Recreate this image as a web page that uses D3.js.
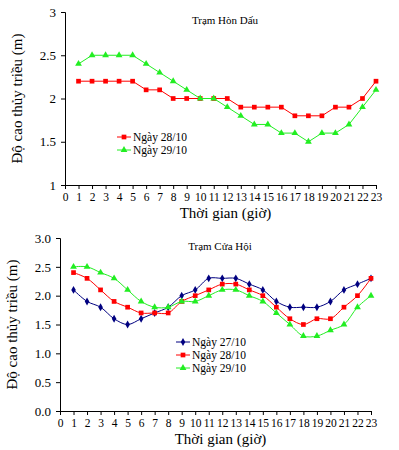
<!DOCTYPE html>
<html>
<head>
<meta charset="utf-8">
<script src="https://cdn.jsdelivr.net/npm/d3@7"></script>
<style>
  body { margin: 0; background: #fff; }
  svg text { font-family: "Liberation Serif", "DejaVu Serif", serif; fill: #000; }
</style>
</head>
<body>
<svg id="chart" width="399" height="450"></svg>
<script>
// hours on the x axis
var hours = d3.range(1, 24);
var xTicks = d3.range(0, 24);

// Tram Hon Dau
var hdTitle = "Trạm Hòn Dấu";
var hdYTicks = [1, 1.5, 2, 2.5, 3];
var hd28 = [2.2, 2.2, 2.2, 2.2, 2.2, 2.1, 2.1, 2.0, 2.0, 2.0, 2.0, 2.0, 1.9, 1.9, 1.9, 1.9, 1.8, 1.8, 1.8, 1.9, 1.9, 2.0, 2.2];
var hd29 = [2.4, 2.5, 2.5, 2.5, 2.5, 2.4, 2.3, 2.2, 2.1, 2.0, 2.0, 1.9, 1.8, 1.7, 1.7, 1.6, 1.6, 1.5, 1.6, 1.6, 1.7, 1.9, 2.1];

// Tram Cua Hoi
var chTitle = "Trạm Cửa Hội";
var chYTicks = [0, 0.5, 1, 1.5, 2, 2.5, 3];
var ch27 = [2.1, 1.9, 1.8, 1.6, 1.5, 1.6, 1.7, 1.8, 2.0, 2.1, 2.3, 2.3, 2.3, 2.2, 2.1, 1.9, 1.8, 1.8, 1.8, 1.9, 2.1, 2.2, 2.3];
var ch28 = [2.4, 2.3, 2.1, 1.9, 1.8, 1.7, 1.7, 1.7, 1.9, 2.0, 2.1, 2.2, 2.2, 2.1, 2.0, 1.8, 1.6, 1.5, 1.6, 1.6, 1.8, 2.0, 2.3];
var ch29 = [2.5, 2.5, 2.4, 2.3, 2.1, 1.9, 1.8, 1.8, 1.9, 1.9, 2.0, 2.1, 2.1, 2.0, 1.9, 1.7, 1.5, 1.3, 1.3, 1.4, 1.5, 1.8, 2.0];

var svg = d3.select("#chart");

function drawPanel(opt) {
  var x = d3.scaleLinear().domain([0, 23]).range([opt.left, opt.right]);
  var y = d3.scaleLinear().domain([opt.yTicks[0], opt.yTicks[opt.yTicks.length - 1]]).range([opt.bottom, opt.top]);
  var g = svg.append("g");

  // y axis
  var ya = g.append("g").attr("transform", "translate(" + opt.left + ",0)")
    .call(d3.axisLeft(y).tickValues(opt.yTicks).tickFormat(d3.format(opt.yFmt)).tickSize(4).tickPadding(5));
  // x axis
  var xa = g.append("g").attr("transform", "translate(0," + opt.bottom + ")")
    .call(d3.axisBottom(x).tickValues(xTicks).tickSize(4).tickPadding(4));
  [ya, xa].forEach(function (a) {
    a.select(".domain").attr("stroke", "#000");
    a.selectAll("line").attr("stroke", "#000");
  });
  ya.selectAll("text").style("font-size", "13px");
  xa.selectAll("text").style("font-size", "11.5px");

  g.append("text").attr("x", opt.titleX).attr("y", opt.titleY)
    .attr("text-anchor", "middle").style("font-size", "11px").text(opt.title);

  g.append("text").attr("x", (opt.left + opt.right) / 2 + 5).attr("y", opt.bottom + 33)
    .attr("text-anchor", "middle").style("font-size", "15px").text("Thời gian (giờ)");

  var my = (opt.top + opt.bottom) / 2 + opt.yLabOff;
  g.append("text").attr("transform", "translate(" + opt.yLabX + "," + my + ") rotate(-90)")
    .attr("text-anchor", "middle").style("font-size", "15px").text("Độ cao thủy triều (m)");

  var line = d3.line().x(function (d, i) { return x(hours[i]); }).y(function (d) { return y(d); });
  if (opt.smooth) line.curve(d3.curveCatmullRom.alpha(0.5));

  opt.series.forEach(function (s, k) {
    g.append("path").datum(s.values).attr("d", line)
      .attr("fill", "none").attr("stroke", s.color).attr("stroke-width", 1);
    g.selectAll(null).data(s.values).enter().append("path")
      .attr("transform", function (d, i) { return "translate(" + x(hours[i]) + "," + y(d) + ")"; })
      .attr("d", d3.symbol().type(s.symbol).size(s.size))
      .attr("fill", s.color);

    // legend
    var ly = opt.legY + k * 13;
    g.append("line").attr("x1", opt.legX).attr("x2", opt.legX + 14).attr("y1", ly).attr("y2", ly)
      .attr("stroke", s.color).attr("stroke-width", 1);
    g.append("path").attr("transform", "translate(" + (opt.legX + 7) + "," + ly + ")")
      .attr("d", d3.symbol().type(s.symbol).size(s.size)).attr("fill", s.color);
    g.append("text").attr("x", opt.legX + 16).attr("y", ly + 4)
      .style("font-size", "11.5px").text(s.name);
  });
}

drawPanel({
  left: 65, right: 376, top: 12, bottom: 185,
  yTicks: hdYTicks, yFmt: "", title: hdTitle, titleX: 225, titleY: 24,
  yLabX: 22, yLabOff: 0, smooth: false, legX: 117, legY: 137,
  series: [
    { name: "Ngày 28/10", values: hd28, color: "#ff0000", symbol: d3.symbolSquare, size: 22 },
    { name: "Ngày 29/10", values: hd29, color: "#22ee22", symbol: d3.symbolTriangle, size: 20 }
  ]
});

drawPanel({
  left: 60, right: 371, top: 238, bottom: 411,
  yTicks: chYTicks, yFmt: ".1f", title: chTitle, titleX: 220, titleY: 250,
  yLabX: 17, yLabOff: 0, smooth: true, legX: 176, legY: 342,
  series: [
    { name: "Ngày 27/10", values: ch27, color: "#000080", symbol: d3.symbolDiamond, size: 18 },
    { name: "Ngày 28/10", values: ch28, color: "#ff0000", symbol: d3.symbolSquare, size: 22 },
    { name: "Ngày 29/10", values: ch29, color: "#22ee22", symbol: d3.symbolTriangle, size: 20 }
  ]
});
</script>
</body>
</html>
